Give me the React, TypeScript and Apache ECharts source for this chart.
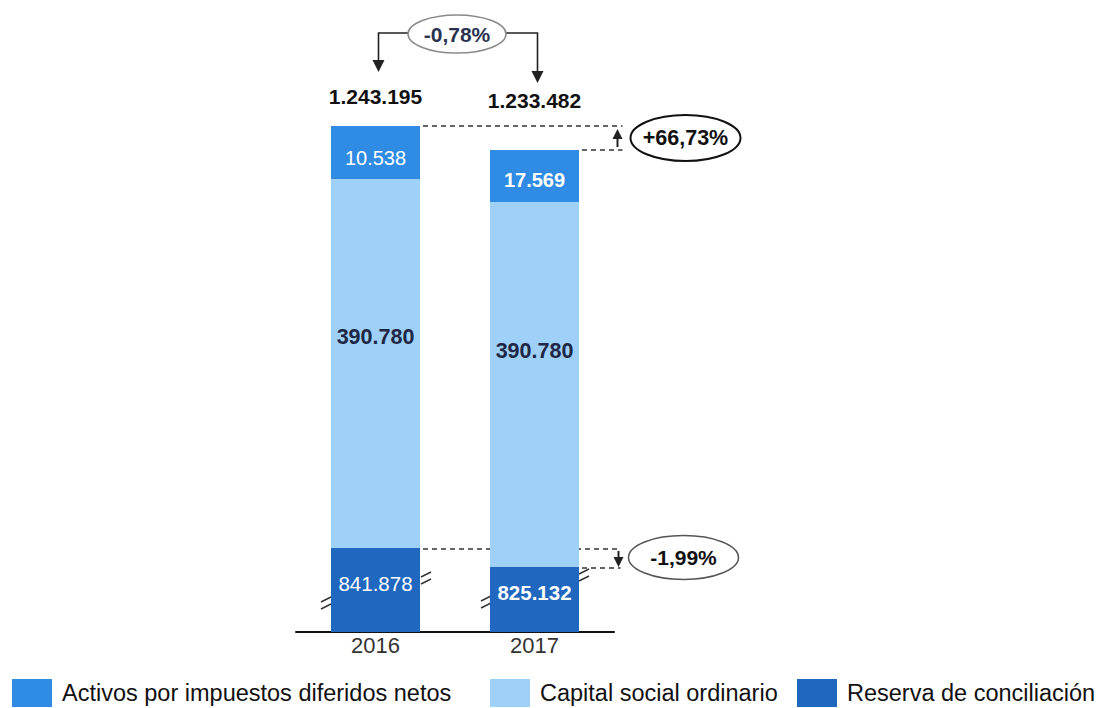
import React, { useEffect, useRef } from "react";
import * as echarts from "echarts";

// Categories
const years = ["2016", "2017"];
// Series names
const seriesNames = ["Activos por impuestos diferidos netos", "Capital social ordinario", "Reserva de conciliación"];
// Displayed (truncated-axis) segment heights as drawn in the picture
const reservaShown = [84, 65];
const capitalShown = [369, 365];
const activosShown = [53, 52];
// Actual values printed on the segments
const reservaLabels = ["841.878", "825.132"];
const capitalLabels = ["390.780", "390.780"];
const activosLabels = ["10.538", "17.569"];
const totalLabels = ["1.243.195", "1.233.482"];
// Percentage change annotations
const changeTotal = "-0,78%";
const changeActivos = "+66,73%";
const changeReserva = "-1,99%";

const FONT = "'Liberation Sans', Arial, sans-serif";
const C_TOP = "#2f8be4";
const C_MID = "#9fd0f7";
const C_BOT = "#1f67bf";

export default function App() {
  const ref = useRef<HTMLDivElement>(null);
  useEffect(() => {
    if (!ref.current) return;
    const chart = echarts.init(ref.current, undefined, { renderer: "svg" });
    const legendText = { fontSize: 23.5, color: "#111", fontFamily: FONT, padding: [0, 0, 0, 5] };
    const legendBase = { top: 679, padding: 0, icon: "rect", itemWidth: 40, itemHeight: 28, textStyle: legendText };
    const option: any = {
      animation: false,
      textStyle: { fontFamily: FONT },
      grid: { left: 296, width: 318, top: 32, height: 600 },
      xAxis: {
        type: "category",
        data: years,
        axisLine: { lineStyle: { color: "#111", width: 2 } },
        axisTick: { show: false },
        axisLabel: { fontSize: 22, color: "#333", margin: 2, fontFamily: FONT },
      },
      yAxis: { type: "value", min: 0, max: 600, show: false, splitLine: { show: false } },
      legend: [
        { ...legendBase, left: 12, data: [seriesNames[0]] },
        { ...legendBase, left: 490, data: [seriesNames[1]] },
        { ...legendBase, left: 797, data: [seriesNames[2]] },
      ],
      series: [
        {
          name: seriesNames[2],
          type: "bar",
          stack: "t",
          barWidth: 89,
          itemStyle: { color: C_BOT },
          data: reservaShown.map((v, i) => ({
            value: v,
            label: {
              show: true,
              position: "inside",
              offset: [0, -7],
              formatter: reservaLabels[i],
              color: "#fff",
              fontSize: 20.5,
              fontWeight: i === 1 ? "bold" : "normal",
              fontFamily: FONT,
            },
          })),
        },
        {
          name: seriesNames[1],
          type: "bar",
          stack: "t",
          barWidth: 89,
          itemStyle: { color: C_MID },
          data: capitalShown.map((v, i) => ({
            value: v,
            label: {
              show: true,
              position: "inside",
              offset: [0, i === 0 ? -27 : -34],
              formatter: capitalLabels[i],
              color: "#1e2745",
              fontSize: 21.5,
              fontWeight: "bold",
              fontFamily: FONT,
            },
          })),
        },
        {
          name: seriesNames[0],
          type: "bar",
          stack: "t",
          barWidth: 89,
          itemStyle: { color: C_TOP },
          data: activosShown.map((v, i) => ({
            value: v,
            label: {
              show: true,
              position: "inside",
              offset: [0, i === 0 ? 5 : 4],
              formatter: activosLabels[i],
              color: "#fff",
              fontSize: 20,
              fontWeight: i === 1 ? "bold" : "normal",
              fontFamily: FONT,
            },
          })),
        },
        {
          name: "total",
          type: "bar",
          stack: "t",
          barWidth: 89,
          itemStyle: { color: "transparent" },
          data: totalLabels.map((t, i) => ({
            value: 0,
            label: {
              show: true,
              position: "top",
              distance: i === 0 ? 19 : 39,
              formatter: t,
              color: "#111",
              fontSize: 21,
              fontWeight: "bold",
              fontFamily: FONT,
            },
          })),
        },
      ],
    };
    chart.setOption(option);

    const px = (i: number, v: number) => chart.convertToPixel({ gridIndex: 0 }, [i, v]) as number[];
    const tot0 = reservaShown[0] + capitalShown[0] + activosShown[0];
    const tot1 = reservaShown[1] + capitalShown[1] + activosShown[1];
    const [c16, top16] = px(0, tot0);
    const [c17, top17] = px(1, tot1);
    const b16 = px(0, reservaShown[0])[1];
    const b17 = px(1, reservaShown[1])[1];
    const base = px(0, 0)[1];
    const hw = 44.5;

    const dash = { stroke: "#333", lineWidth: 1.5, lineDash: [5, 4] };
    const solid = { stroke: "#222", lineWidth: 1.6 };
    const tri = (pts: number[][]) => ({ type: "polygon", shape: { points: pts }, style: { fill: "#222" } });
    const line = (x1: number, y1: number, x2: number, y2: number, style: any) => ({
      type: "line",
      shape: { x1, y1, x2, y2 },
      style,
    });
    const ellipse = (cx: number, cy: number, rx: number, ry: number, stroke: string, lw: number, text: string, color: string, fs: number) => [
      { type: "ellipse", shape: { cx, cy, rx, ry }, style: { fill: "#fff", stroke, lineWidth: lw }, z: 10 },
      {
        type: "text",
        x: cx,
        y: cy,
        z: 11,
        style: { text, fill: color, font: `bold ${fs}px ${FONT}`, align: "center", verticalAlign: "middle" },
      },
    ];
    const brk = (x: number, y: number) => [
      line(x, y + 4, x + 10, y - 1, { stroke: "#333", lineWidth: 1.4 }),
      line(x, y + 11, x + 10, y + 6, { stroke: "#333", lineWidth: 1.4 }),
    ];

    const midX = (c16 + c17) / 2 + 2;
    const rightX = c17 + 88;
    const graphic: any[] = [
      // total change
      { type: "polyline", shape: { points: [[midX - 49, 33], [c16 + 3, 33], [c16 + 3, 62]] }, style: { ...solid, fill: null } },
      tri([[c16 - 3, 60], [c16 + 9, 60], [c16 + 3, 72]]),
      { type: "polyline", shape: { points: [[midX + 49, 33], [c17 + 3, 33], [c17 + 3, 73]] }, style: { ...solid, fill: null } },
      tri([[c17 - 3, 71], [c17 + 9, 71], [c17 + 3, 83]]),
      ...ellipse(midX, 34, 49, 19, "#8a8a8a", 1.5, changeTotal, "#2a3250", 21),
      // activos change
      line(c16 + hw + 3, top16, rightX, top16, dash),
      line(c17 + hw + 3, top17, rightX, top17, dash),
      line(c17 + 83, top16 + 12, c17 + 83, top17 - 3, { stroke: "#222", lineWidth: 2 }),
      tri([[c17 + 78, top16 + 13], [c17 + 88, top16 + 13], [c17 + 83, top16 + 3]]),
      ...ellipse(c17 + 151, (top16 + top17) / 2, 55, 23, "#111", 2, changeActivos, "#111", 21.5),
      // reserva change
      line(c16 + hw + 3, b16 + 1, rightX - 2, b16 + 1, dash),
      line(c17 + hw + 3, b17 + 1, rightX - 2, b17 + 1, dash),
      line(c17 + 84, b16 + 3, c17 + 84, b16 + 10, { stroke: "#222", lineWidth: 2 }),
      tri([[c17 + 79, b16 + 9], [c17 + 89, b16 + 9], [c17 + 84, b16 + 19]]),
      ...ellipse(c17 + 149, (b16 + b17) / 2, 55, 22, "#555", 1.5, changeReserva, "#111", 21),
      // axis break marks
      ...brk(c16 - hw - 10, base - 34),
      ...brk(c16 + hw + 1, base - 59),
      ...brk(c17 - hw - 9, base - 35),
      ...brk(c17 + hw + 0, base - 62),
    ];
    chart.setOption({ graphic });

    return () => chart.dispose();
  }, []);
  return <div ref={ref} style={{ position: "fixed", left: 0, top: 0, width: 1108, height: 708, background: "#fff" }} />;
}
